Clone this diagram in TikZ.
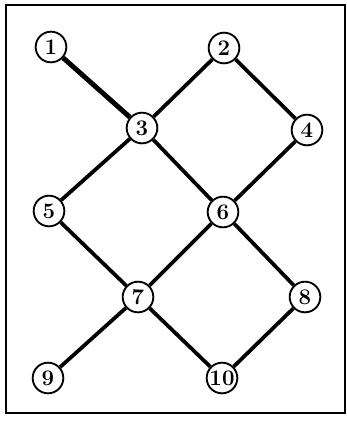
\documentclass[tikz,border=0pt]{standalone}
\usepackage{tikz}
\usetikzlibrary{positioning,calc}

\begin{document}
\begin{tikzpicture}[x=0.03cm,y=-0.03cm,
          every node/.style={font=\fontsize{19}{19}\selectfont\bfseries},
          pt/.style={draw,circle,line width=1.6pt,fill=white,
            minimum size=0.92cm,inner sep=0pt},
          ln/.style={line width=3.2pt}]
        \useasboundingbox (0,0) rectangle (347,421);
        \draw[line width=1.6pt] (6,5) rectangle (345,413);

        \node[pt] (n1)  at (51,47)   {1};
        \node[pt] (n2)  at (224,48)  {2};
        \node[pt] (n3)  at (142,128) {3};
        \node[pt] (n4)  at (307,130) {4};
        \node[pt] (n5)  at (49,211)  {5};
        \node[pt] (n6)  at (223,212) {6};
        \node[pt] (n7)  at (138,297) {7};
        \node[pt] (n8)  at (305,297) {8};
        \node[pt] (n9)  at (48,378)  {9};
        \node[pt] (n10) at (222,378) {10};

        \draw[line width=4.2pt] (n1) -- (n3);
        \draw[ln] (n2) -- (n3);
        \draw[ln] (n2) -- (n4);
        \draw[ln] (n3) -- (n5);
        \draw[ln] (n3) -- (n6);
        \draw[ln] (n4) -- (n6);
        \draw[ln] (n5) -- (n7);
        \draw[ln] (n6) -- (n7);
        \draw[ln] (n6) -- (n8);
        \draw[ln] (n7) -- (n9);
        \draw[ln] (n7) -- (n10);
        \draw[ln] (n8) -- (n10);
      \end{tikzpicture}
\end{document}
